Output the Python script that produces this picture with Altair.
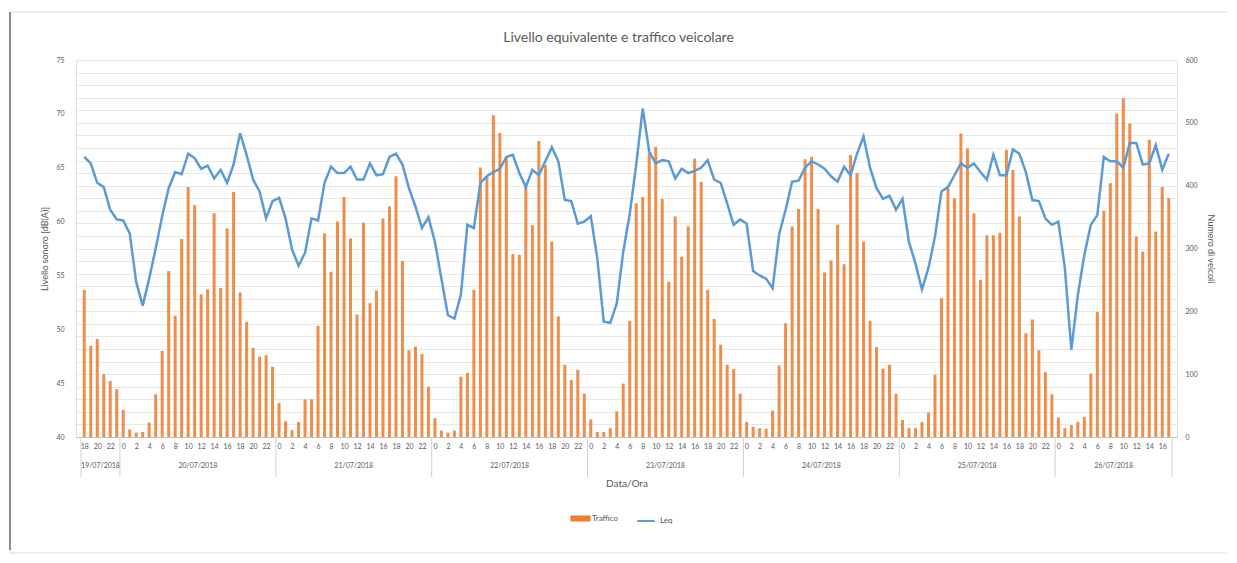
import altair as alt
import pandas as pd

# ---------------- data ----------------
title_text = "Livello equivalente e traffico veicolare"
days = ["19/07/2018", "20/07/2018", "21/07/2018", "22/07/2018",
        "23/07/2018", "24/07/2018", "25/07/2018", "26/07/2018"]
start_hour = 18

traffico_19 = [234, 145, 156, 100, 89, 76]
traffico_20 = [43, 12, 7, 8, 23, 68, 137, 264, 193, 315, 398, 369,
               227, 235, 356, 237, 332, 390, 230, 183, 142, 128, 130, 112]
traffico_21 = [54, 25, 11, 24, 60, 60, 177, 324, 263, 343, 382, 316,
               195, 341, 213, 233, 348, 367, 415, 280, 138, 144, 132, 80]
traffico_22 = [30, 10, 7, 10, 96, 102, 234, 429, 414, 512, 484, 445,
               291, 290, 398, 337, 471, 433, 311, 192, 115, 91, 107, 69]
traffico_23 = [28, 8, 8, 14, 41, 85, 185, 372, 382, 452, 462, 379,
               247, 351, 287, 335, 443, 406, 234, 188, 147, 115, 108, 69]
traffico_24 = [24, 16, 14, 13, 42, 114, 181, 335, 363, 442, 446, 363,
               262, 281, 338, 275, 449, 420, 311, 185, 143, 109, 115, 69]
traffico_25 = [27, 14, 14, 24, 39, 99, 221, 396, 380, 483, 459, 356,
               250, 321, 321, 325, 457, 425, 351, 165, 187, 138, 103, 68]
traffico_26 = [31, 14, 19, 24, 32, 101, 199, 360, 404, 515, 539, 499,
               319, 295, 473, 327, 398, 380]

leq_19 = [66.0, 65.4, 63.6, 63.2, 61.1, 60.2]
leq_20 = [60.1, 58.9, 54.4, 52.2, 54.7, 57.5, 60.5, 63.1, 64.6, 64.4, 66.3, 65.9,
          64.9, 65.2, 64.0, 64.8, 63.6, 65.3, 68.2, 66.2, 63.9, 62.8, 60.3, 61.9]
leq_21 = [62.2, 60.3, 57.4, 55.9, 57.1, 60.3, 60.1, 63.6, 65.1, 64.5, 64.5, 65.1,
          63.9, 63.9, 65.4, 64.3, 64.4, 66.0, 66.3, 65.3, 63.1, 61.4, 59.4, 60.4]
leq_22 = [58.1, 54.7, 51.3, 51.0, 53.2, 59.7, 59.4, 63.6, 64.2, 64.6, 64.9, 66.0,
          66.2, 64.5, 63.2, 64.8, 64.3, 65.6, 66.9, 65.6, 62.0, 61.9, 59.8, 60.0]
leq_23 = [60.5, 56.6, 50.7, 50.6, 52.4, 57.2, 60.7, 65.3, 70.5, 66.5, 65.4, 65.7,
          65.6, 64.0, 64.9, 64.5, 64.7, 65.0, 65.7, 63.9, 63.6, 61.7, 59.7, 60.2]
leq_24 = [59.8, 55.4, 55.0, 54.7, 53.8, 58.8, 61.1, 63.7, 63.8, 65.0, 65.6, 65.3,
          64.9, 64.2, 63.7, 65.1, 64.3, 66.3, 67.9, 65.0, 63.1, 62.1, 62.4, 61.1]
leq_25 = [62.1, 58.1, 56.1, 53.7, 55.7, 58.6, 62.8, 63.2, 64.3, 65.4, 65.0, 65.4,
          64.6, 63.9, 66.2, 64.3, 64.3, 66.7, 66.3, 64.6, 62.0, 61.9, 60.3, 59.7]
leq_26 = [60.0, 55.7, 48.1, 53.2, 56.9, 59.7, 60.6, 66.0, 65.6, 65.6, 65.0, 67.3,
          67.3, 65.3, 65.4, 67.1, 64.8, 66.3]

traffico = (traffico_19 + traffico_20 + traffico_21 + traffico_22 +
            traffico_23 + traffico_24 + traffico_25 + traffico_26)
leq = leq_19 + leq_20 + leq_21 + leq_22 + leq_23 + leq_24 + leq_25 + leq_26

n = len(traffico)
idx = list(range(n))
hours = [(start_hour + i) % 24 for i in idx]

df = pd.DataFrame({
    "x": [i + 0.5 for i in idx],
    "ora": hours,
    "Traffico": traffico,
    "Leq": leq,
})

# day boundaries & centres
bounds = [0] + [i for i in idx if hours[i] == 0] + [n]
days_df = pd.DataFrame({
    "c": [(bounds[k] + bounds[k + 1]) / 2 for k in range(len(days))],
    "d": days,
})
sep_df = pd.DataFrame({"b": bounds})

# ---------------- style ----------------
FONT = "Lato"
GREY = "#595959"
ORANGE = "#ED7D31"
BLUE = "#5B9BD5"
W, H = 1101, 377

tick_vals = [i + 0.5 for i in idx if hours[i] % 2 == 0]

x_axis = alt.Axis(
    values=tick_vals,
    labelExpr=f"(floor(datum.value) + {start_hour}) % 24",
    labelFontSize=7, labelColor=GREY, labelFont=FONT, labelPadding=5,
    labelOverlap=False, labelFlush=False, labelAngle=0,
    ticks=False, grid=False, domainColor="#bfbfbf",
    title="Data/Ora", titleFontSize=10, titleFont=FONT, titleColor=GREY,
    titleFontWeight="normal", titlePadding=29,
)
x_scale = alt.Scale(domain=[0, n], nice=False, zero=False)

one = pd.DataFrame({"k": [0]})

# chart frame (decoration only)
frame = alt.Chart(one).mark_rect(
    fill=None, stroke="#dcdcdc", strokeWidth=1
).encode(
    x=alt.value(-66), x2=alt.value(1153),
    y=alt.value(-48), y2=alt.value(493),
)
frame_left = alt.Chart(one).mark_rule(
    color="#8c8c8c", strokeWidth=2
).encode(
    x=alt.value(-66), y=alt.value(-48), y2=alt.value(490),
)

title = alt.Chart(one).transform_calculate(tt=f"'{title_text}'").mark_text(
    fontSize=14, font=FONT, color=GREY, align="center", baseline="middle"
).encode(
    x=alt.value(W / 2 - 8), y=alt.value(-22), text="tt:N",
)

bars = alt.Chart(df).transform_calculate(s="'Traffico'").mark_bar(
    size=3, opacity=0.88
).encode(
    x=alt.X("x:Q", scale=x_scale, axis=x_axis),
    y=alt.Y("Traffico:Q",
            scale=alt.Scale(domain=[0, 600], nice=False),
            axis=alt.Axis(orient="right", values=list(range(0, 601, 20)),
                          labelExpr="datum.value % 100 == 0 ? datum.label : ''",
                          labelFontSize=7, labelColor=GREY, labelFont=FONT,
                          labelPadding=8, ticks=False, domain=False,
                          gridColor="#e8e8e8", gridWidth=1,
                          title="Numero di veicoli", titleFontSize=9,
                          titleFont=FONT, titleColor=GREY,
                          titleFontWeight="normal", titlePadding=8)),
    color=alt.Color("s:N", scale=alt.Scale(domain=["Traffico"], range=[ORANGE]),
                    legend=alt.Legend(orient="none", legendX=497, legendY=451,
                                      title=None, symbolType="M-1.5,-0.45H1.5V0.45H-1.5Z",
                                      symbolSize=180, symbolOpacity=1,
                                      labelFontSize=8, labelColor=GREY, labelFont=FONT)),
)

line = alt.Chart(df).transform_calculate(t="'Leq'").mark_line(
    strokeWidth=2.5
).encode(
    x=alt.X("x:Q", scale=x_scale, axis=x_axis),
    y=alt.Y("Leq:Q",
            scale=alt.Scale(domain=[40, 75], nice=False, zero=False),
            axis=alt.Axis(orient="left", values=list(range(40, 76, 5)),
                          labelFontSize=7, labelColor=GREY, labelFont=FONT,
                          labelPadding=12, ticks=False, domain=False,
                          gridColor="#d4d4d4", gridWidth=1,
                          title="Livello sonoro [dB(A)]", titleFontSize=9,
                          titleFont=FONT, titleColor=GREY,
                          titleFontWeight="normal", titlePadding=6)),
    color=alt.Color("t:N", scale=alt.Scale(domain=["Leq"], range=[BLUE]),
                    legend=alt.Legend(orient="none", legendX=560, legendY=451,
                                      title=None, symbolType="stroke",
                                      symbolSize=300, symbolStrokeWidth=2,
                                      labelFontSize=8, labelColor=GREY, labelFont=FONT)),
)

date_labels = alt.Chart(days_df).mark_text(
    fontSize=7, color=GREY, font=FONT, baseline="middle"
).encode(
    x=alt.X("c:Q", scale=x_scale, axis=x_axis),
    y=alt.value(H + 29),
    text="d:N",
)

separators = alt.Chart(sep_df).mark_rule(color="#d0d0d0", strokeWidth=1).encode(
    x=alt.X("b:Q", scale=x_scale, axis=x_axis),
    y=alt.value(H),
    y2=alt.value(H + 40),
)

chart = alt.layer(frame, frame_left, title, bars, line, separators, date_labels).resolve_scale(
    y="independent", color="independent"
).properties(
    width=W, height=H,
    autosize=alt.AutoSizeParams(type="none"),
    padding={"left": 68, "top": 52, "right": 50, "bottom": 120},
).configure_view(stroke=None).configure(background="white")

chart.save("out.html", embed_options={"renderer": "svg", "actions": False})
